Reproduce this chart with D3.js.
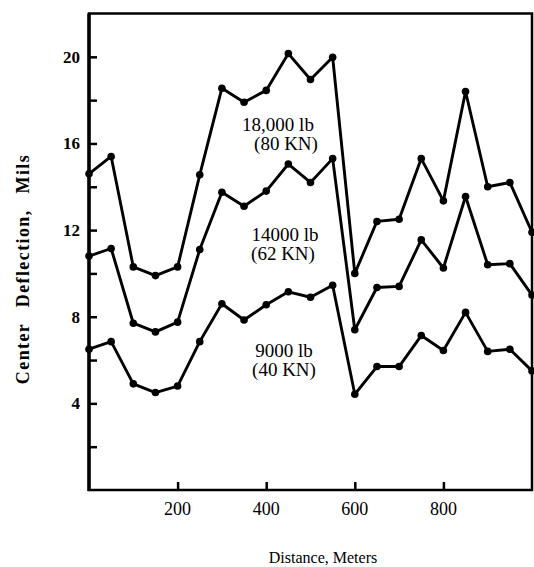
<!DOCTYPE html>
<html lang="en">
<head>
  <meta charset="UTF-8">
  <title>Center Deflection vs Distance</title>
  <script src="https://d3js.org/d3.v7.min.js"></script>
  <style>
    body {
      margin: 0;
      background: #ffffff;
    }
    svg text {
      font-family: "Liberation Serif", "Times New Roman", serif;
      fill: #000;
    }
    .line {
      fill: none;
      stroke: #000;
      stroke-width: 2.9px;
      stroke-linejoin: round;
    }
    .dot {
      fill: #000;
    }
  </style>
</head>
<body>
<div id="chart"></div>

<script>
// distance along the section, meters
const distance = [0, 50, 100, 150, 200, 250, 300, 350, 400, 450, 500,
                  550, 600, 650, 700, 750, 800, 850, 900, 950, 1000];

// center deflection, mils
const load18000 = [14.6, 15.4, 10.3, 9.9, 10.3, 14.55, 18.55, 17.9, 18.45, 20.15, 18.95,
                   19.98, 10.0, 12.4, 12.5, 15.3, 13.35, 18.4, 14.0, 14.2, 11.9];
const load14000 = [10.8, 11.15, 7.7, 7.3, 7.75, 11.1, 13.75, 13.1, 13.8, 15.05, 14.2,
                   15.3, 7.4, 9.35, 9.4, 11.55, 10.25, 13.55, 10.4, 10.45, 9.0];
const load9000  = [6.5, 6.85, 4.9, 4.5, 4.8, 6.85, 8.6, 7.85, 8.55, 9.15, 8.9,
                   9.45, 4.42, 5.7, 5.7, 7.13, 6.44, 8.2, 6.4, 6.5, 5.5];

const xTicks = [200, 400, 600, 800];
const yTicks = [2, 4, 6, 8, 10, 12, 14, 16, 18, 20];
const yLabels = [4, 8, 12, 16, 20];

const W = 534, H = 567;
const svg = d3.select("#chart").append("svg")
    .attr("width", W)
    .attr("height", H);

const x = d3.scaleLinear().domain([0, 1000]).range([89, 532]);
const y = d3.scaleLinear().domain([0, 22]).range([490, 13.5]);

// frame
svg.append("rect")
    .attr("x", x(0)).attr("y", y(22))
    .attr("width", x(1000) - x(0)).attr("height", y(0) - y(22))
    .attr("fill", "none").attr("stroke", "#000").attr("stroke-width", 2.5);
svg.append("line")
    .attr("x1", x(0)).attr("x2", x(0))
    .attr("y1", y(22)).attr("y2", y(0) + 1)
    .attr("stroke", "#000").attr("stroke-width", 3.5);

// y ticks (inward)
svg.append("g")
    .attr("transform", `translate(${x(0)},0)`)
    .call(d3.axisRight(y).tickValues(yTicks).tickSize(8).tickFormat(""))
    .call(g => g.select(".domain").remove())
    .call(g => g.selectAll("line").attr("stroke-width", 2.5));

svg.append("g").selectAll("text")
    .data(yLabels)
    .join("text")
    .attr("x", 80)
    .attr("y", d => y(d) + 6)
    .attr("text-anchor", "end")
    .attr("font-size", 17)
    .attr("font-weight", "bold")
    .text(d => d);

// x ticks (inward)
svg.append("g")
    .attr("transform", `translate(0,${y(0)})`)
    .call(d3.axisTop(x).tickValues(xTicks).tickSize(8).tickFormat(""))
    .call(g => g.select(".domain").remove())
    .call(g => g.selectAll("line").attr("stroke-width", 2.5));

svg.append("g").selectAll("text")
    .data(xTicks)
    .join("text")
    .attr("x", d => x(d))
    .attr("y", 515)
    .attr("text-anchor", "middle")
    .attr("font-size", 18)
    .text(d => d);

// axis titles
svg.append("text")
    .attr("transform", "translate(29,269) rotate(-90)")
    .attr("text-anchor", "middle")
    .attr("font-size", 18)
    .attr("font-weight", "bold")
    .attr("letter-spacing", 1.4)
    .attr("word-spacing", 10)
    .text("Center Deflection, Mils");

svg.append("text")
    .attr("x", 323)
    .attr("y", 563)
    .attr("text-anchor", "middle")
    .attr("font-size", 16)
    .text("Distance, Meters");

// series
const series = [load18000, load14000, load9000];
const line = d3.line()
    .x((d, i) => x(distance[i]))
    .y(d => y(d));

series.forEach(vals => {
  svg.append("path")
      .datum(vals)
      .attr("class", "line")
      .attr("d", line);

  svg.append("g").selectAll("circle")
      .data(vals)
      .join("circle")
      .attr("class", "dot")
      .attr("cx", (d, i) => x(distance[i]))
      .attr("cy", d => y(d))
      .attr("r", 3.8);
});

// load annotations
const notes = [
  { text: "18,000 lb", cx: 278, by: 131 },
  { text: "(80 KN)",   cx: 286, by: 150 },
  { text: "14000 lb",  cx: 285, by: 241 },
  { text: "(62 KN)",   cx: 283, by: 260 },
  { text: "9000 lb",   cx: 284, by: 357 },
  { text: "(40 KN)",   cx: 284, by: 376 }
];
svg.append("g").selectAll("text")
    .data(notes)
    .join("text")
    .attr("x", d => d.cx)
    .attr("y", d => d.by)
    .attr("text-anchor", "middle")
    .attr("font-size", 19)
    .text(d => d.text);
</script>
</body>
</html>
